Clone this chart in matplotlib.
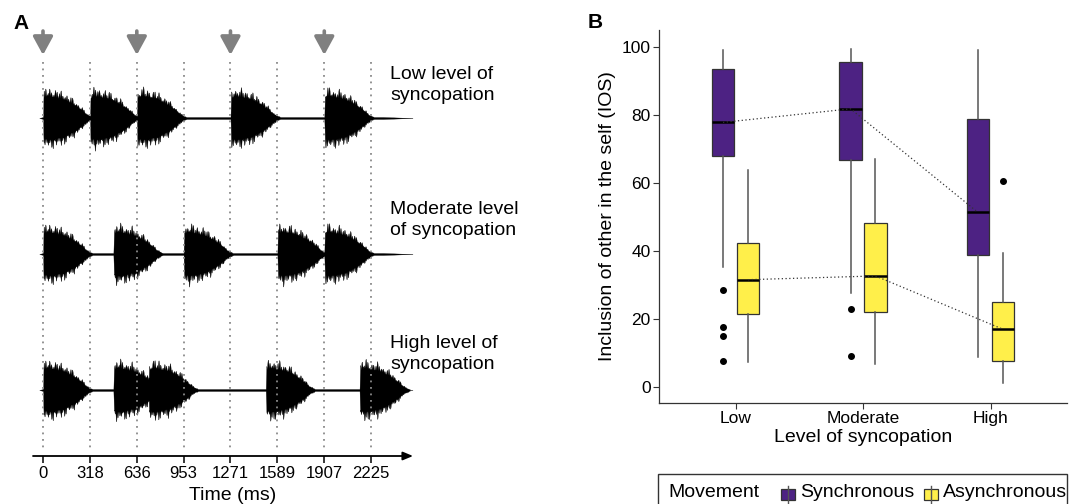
import matplotlib.pyplot as plt
from matplotlib.patches import Rectangle
from matplotlib.lines import Line2D
import numpy as np

plt.rcParams['font.family'] = ['Liberation Sans', 'DejaVu Sans']

# ---- Panel A data: note onsets (ms) for each rhythm ----
time_ticks = [0, 318, 636, 953, 1271, 1589, 1907, 2225]
beat_arrows = [0, 636, 1271, 1907]
rhythm_labels = ['Low level of\nsyncopation', 'Moderate level\nof syncopation', 'High level of\nsyncopation']
onsets_low = [0, 318, 636, 1271, 1907]
onsets_moderate = [0, 477, 953, 1589, 1907]
onsets_high = [0, 477, 715, 1510, 2146]

# note envelope (time since onset in ms -> relative amplitude)
env_t = [0, 4, 30, 140, 210, 260, 295, 320, 340]
env_a = [0, 0.9, 1.0, 0.85, 0.6, 0.36, 0.16, 0.08, 0.03]

# ---- Panel B data: IOS boxplot summaries ----
levels = ['Low', 'Moderate', 'High']
movement = ['Synchronous', 'Asynchronous']
colors = ['#4D2283', '#FFEF4A']
sync_med = [77.8, 81.8, 51.3]
sync_q1 = [67.8, 66.8, 38.7]
sync_q3 = [93.6, 95.5, 78.9]
sync_lo = [35.1, 27.7, 8.7]
sync_hi = [99.0, 99.3, 99.0]
sync_out = [[28.5, 17.6, 15.0, 7.6], [22.9, 9.0], []]
async_med = [31.5, 32.6, 16.9]
async_q1 = [21.4, 22.1, 7.7]
async_q3 = [42.4, 48.3, 24.8]
async_lo = [7.2, 6.7, 1.1]
async_hi = [63.8, 67.0, 39.3]
async_out = [[], [], [60.5]]

W, H = 1072, 504
fig = plt.figure(figsize=(W / 100, H / 100), dpi=100)


def px(x0, y0, x1, y1):
    # figure rectangle from pixel box (top-left origin)
    return [x0 / W, 1 - y1 / H, (x1 - x0) / W, (y1 - y0) / H]


# ================= Panel A =================
ax = fig.add_axes(px(33, 28, 413, 456))
ms0 = (33 - 43) / 0.1475
ms1 = (413 - 43) / 0.1475
ax.set_xlim(ms0, ms1)
ax.set_ylim(456, 28)
for s in ax.spines.values():
    s.set_visible(False)
ax.set_yticks([])
ax.set_xticks(time_ticks)
ax.set_xticklabels([str(v) for v in time_ticks], fontsize=12)
ax.tick_params(axis='x', length=5, width=1.1, pad=2, color='black')
ax.annotate('', xy=(ms1, 456), xytext=(ms0, 456), xycoords='data',
            arrowprops=dict(arrowstyle='-|>,head_width=0.25,head_length=0.6',
                            lw=1.3, color='black', shrinkA=0, shrinkB=0,
                            mutation_scale=10), annotation_clip=False)

ax.vlines(time_ticks, 62, 452, colors='#8a8a8a', linestyles=(0, (1, 2.6)), lw=1.3)
for t in beat_arrows:
    ax.annotate('', xy=(t, 55), xytext=(t, 31),
                arrowprops=dict(arrowstyle='-|>,head_width=0.3,head_length=0.55',
                                lw=2.6, color='#808080', shrinkA=0, shrinkB=0,
                                mutation_scale=20), annotation_clip=False)

tt = np.arange(-25, 2506, 0.5)
spk1 = (0.5 * (1 + np.sin(2 * np.pi * tt / 13.0)) * 0.5 * (1 + np.sin(2 * np.pi * tt / 37.0))
        * (0.6 + 0.4 * np.sin(2 * np.pi * tt / 83.0)))
spk2 = (0.5 * (1 + np.sin(2 * np.pi * tt / 11.0 + 1.3)) * 0.5 * (1 + np.sin(2 * np.pi * tt / 29.0 + 0.7))
        * (0.6 + 0.4 * np.sin(2 * np.pi * tt / 71.0 + 2.0)))
taper = np.clip((tt + 25) / 25, 0, 1) * np.clip((2506 - tt) / 200, 0, 1)
base = 0.03 * taper

centers = [118, 254, 390]
amp = 33
for onsets, cy in zip([onsets_low, onsets_moderate, onsets_high], centers):
    env = np.zeros_like(tt)
    for o in onsets:
        tau = tt - o
        e = np.interp(tau, env_t, env_a, left=0, right=0)
        env = np.maximum(env, e)
    up = np.maximum(base, env * (0.68 + 0.32 * np.sqrt(np.clip(spk1, 0, 1))))
    dn = np.maximum(base, env * (0.66 + 0.34 * np.sqrt(np.clip(spk2, 0, 1))))
    ax.fill_between(tt, cy - amp * up, cy + amp * dn, color='black', lw=0.2)

for lab, cy in zip(rhythm_labels, [85, 220, 354]):
    fig.text(390 / W, 1 - cy / H, lab, fontsize=14, va='center', ha='left',
             linespacing=1.32)

fig.text(233 / W, 1 - 495 / H, 'Time (ms)', fontsize=14, ha='center', va='center')
fig.text(13 / W, 1 - 29 / H, 'A', fontsize=15, fontweight='bold', va='baseline')
fig.text(588 / W, 1 - 28 / H, 'B', fontsize=15, fontweight='bold', va='baseline')

# ================= Panel B =================
bx = fig.add_axes(px(659, 30, 1067, 403))
dodge = 0.098
groups = [
    (sync_med, sync_q1, sync_q3, sync_lo, sync_hi, sync_out, -dodge, colors[0]),
    (async_med, async_q1, async_q3, async_lo, async_hi, async_out, dodge, colors[1]),
]
for med, q1, q3, lo, hi, out, off, col in groups:
    stats = [dict(med=med[i], q1=q1[i], q3=q3[i], whislo=lo[i], whishi=hi[i],
                  fliers=out[i]) for i in range(3)]
    pos = [i + 1 + off for i in range(3)]
    bx.bxp(stats, positions=pos, widths=0.18, patch_artist=True, showcaps=False,
           boxprops=dict(facecolor=col, edgecolor='#333333', lw=0.9),
           medianprops=dict(color='black', lw=1.8),
           whiskerprops=dict(color='#555555', lw=1.1),
           flierprops=dict(marker='o', markerfacecolor='black', markeredgecolor='black',
                           markersize=4))
    bx.plot(pos, med, color='#333333', lw=0.9, linestyle=(0, (1, 2)), zorder=5)

bx.set_xlim(0.4, 3.6)
bx.set_ylim(-4.8, 105)
bx.set_xticks([1, 2, 3])
bx.set_xticklabels(levels, fontsize=12.5)
bx.set_yticks([0, 20, 40, 60, 80, 100])
bx.set_yticklabels(['0', '20', '40', '60', '80', '100'], fontsize=12.5)
bx.tick_params(length=4, width=0.8, color='#333333', pad=2)
for s in ['top', 'right']:
    bx.spines[s].set_visible(False)
for s in ['left', 'bottom']:
    bx.spines[s].set_color('#333333')
    bx.spines[s].set_linewidth(0.9)
bx.set_xlabel('Level of syncopation', fontsize=14, labelpad=2)
bx.set_ylabel('Inclusion of other in the self (IOS)', fontsize=14, labelpad=4)

# legend drawn at bottom, ggplot style
fig.add_artist(Rectangle((658 / W, 1 - 530 / H), (1067 - 658) / W, (530 - 474) / H,
                         transform=fig.transFigure, facecolor='white',
                         edgecolor='#333333', lw=1.0))
fig.text(668 / W, 1 - 497 / H, 'Movement', fontsize=14, va='baseline')
for name, col, kx, tx in zip(movement, colors, [781, 924], [800, 943]):
    fig.add_artist(Line2D([(kx + 7) / W] * 2, [1 - 486 / H, 1 - 504 / H],
                          transform=fig.transFigure, color='#555555', lw=1.0))
    fig.add_artist(Rectangle((kx / W, 1 - 500 / H), 14 / W, 11 / H,
                             transform=fig.transFigure, facecolor=col,
                             edgecolor='#333333', lw=0.9))
    fig.text(tx / W, 1 - 497 / H, name, fontsize=14, va='baseline')

fig.savefig('out.png', dpi=100)
